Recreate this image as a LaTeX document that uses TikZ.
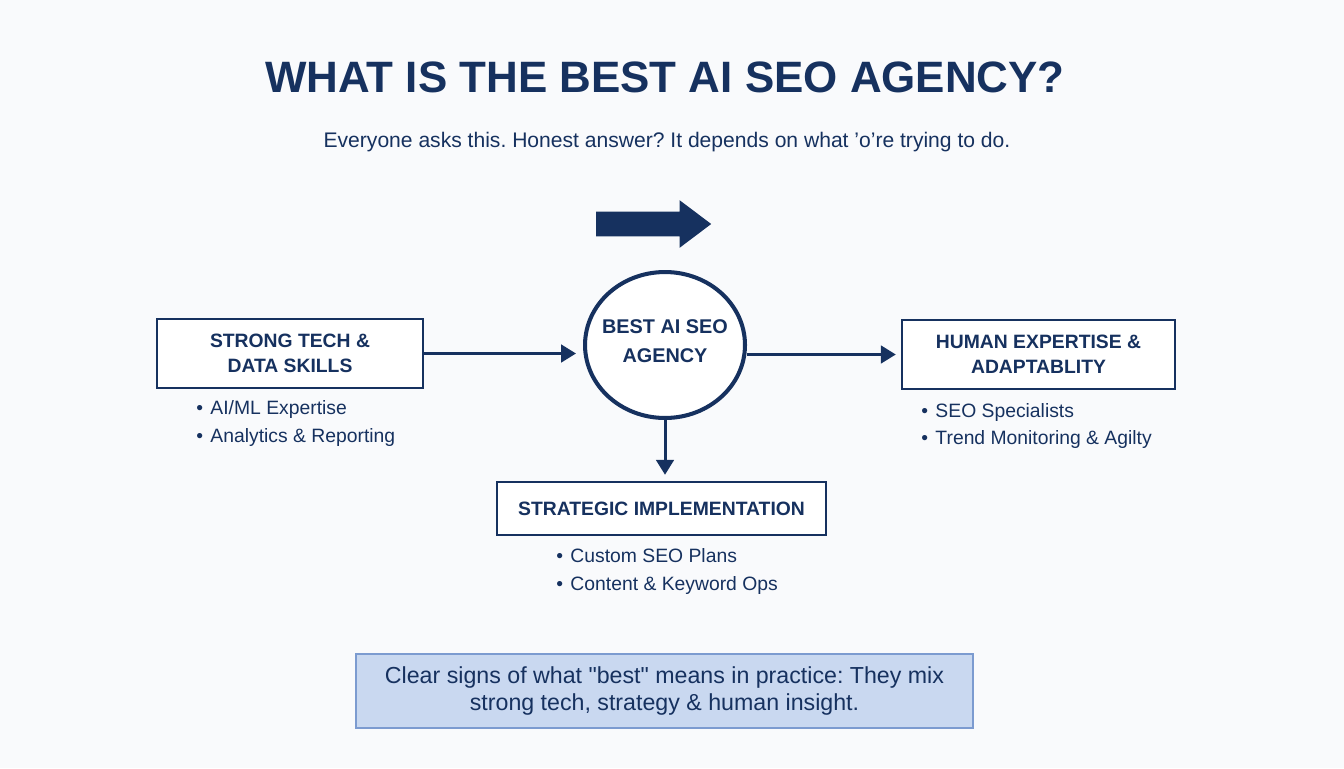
\documentclass[tikz,border=0pt]{standalone}
\usepackage{fontspec}
\setmainfont{Liberation Sans}
\usetikzlibrary{arrows.meta,shapes.geometric,shapes.arrows}
\definecolor{navy}{HTML}{16315F}
\definecolor{notefill}{HTML}{C9D8F0}
\definecolor{noteline}{HTML}{7C9BD0}
\definecolor{paper}{HTML}{F9FAFC}
\frenchspacing

\begin{document}
\begin{tikzpicture}[x=0.02cm, y=-0.02cm,
		every node/.style={text=navy},
		box/.style={draw=navy, line width=1.4pt, fill=white, align=center, font=\fontsize{11}{14.2}\selectfont\bfseries},
		items/.style={anchor=west, inner sep=0pt, align=left, font=\fontsize{11}{15.4}\selectfont},
		link/.style={draw=navy, line width=1.7pt, -{Triangle[length=8.5pt,width=10pt]}}]
			\fill[paper] (0,0) rectangle (1344,768);
			\node (title) at (665,77) {\fontsize{25}{30}\selectfont\bfseries WHAT IS THE BEST AI SEO AGENCY?};
			\node (subtitle) at (667,142) {\fontsize{12}{14}\selectfont Everyone asks this. Honest answer? It depends on what 'o're trying to do.};
			\node[single arrow, fill=navy, inner sep=0.24cm, minimum height=2.3cm, single arrow head extend=0.23cm, single arrow tip angle=74] (bigarrow) at (645.5,224) {};
			\node[ellipse, draw=navy, line width=2.3pt, fill=white, inner sep=0pt, minimum width=3.2cm, minimum height=2.92cm] (agency) at (665,345) {};
			\node[align=center, font=\fontsize{11.3}{16.5}\selectfont\bfseries] (agencytext) at (665,341.5) {BEST AI SEO\\AGENCY};
			\node[box, minimum width=5.32cm, minimum height=1.38cm] (tech) at (290,353.5) {STRONG TECH \&\\DATA SKILLS};
			\draw[link, shorten >=0.14cm] (tech.east) -- (tech.east -| agency.west);
			\node[items] (techlist) at (196,423.5) {•\hspace{0.38em}AI/ML Expertise\\•\hspace{0.38em}Analytics \& Reporting};
			\node[box, minimum width=5.46cm, minimum height=1.38cm] (human) at (1038.5,354.5) {HUMAN EXPERTISE \&\\ADAPTABLITY};
			\draw[link, shorten >=0.1cm] (human.west -| agency.east) -- (human.west);
			\node[items] (humanlist) at (921,426) {•\hspace{0.38em}SEO Specialists\\•\hspace{0.38em}Trend Monitoring \& Agilty};
			\node[box, minimum width=6.58cm, minimum height=1.06cm] (strategy) at (661.5,508.5) {STRATEGIC IMPLEMENTATION};
			\draw[link, shorten >=0.12cm] (agency.south) -- (agency.south |- strategy.north);
			\node[items] (strategylist) at (556,571.5) {•\hspace{0.38em}Custom SEO Plans\\•\hspace{0.38em}Content \& Keyword Ops};
			\node[fill=notefill, draw=noteline, line width=1.2pt, minimum width=12.34cm, minimum height=1.48cm, align=center, font=\fontsize{13.2}{15.9}\selectfont] (note) at (664.5,691) {Clear signs of what \textquotedbl best\textquotedbl{} means in practice: They mix\\strong tech, strategy \& human insight.};
		\end{tikzpicture}
\end{document}
